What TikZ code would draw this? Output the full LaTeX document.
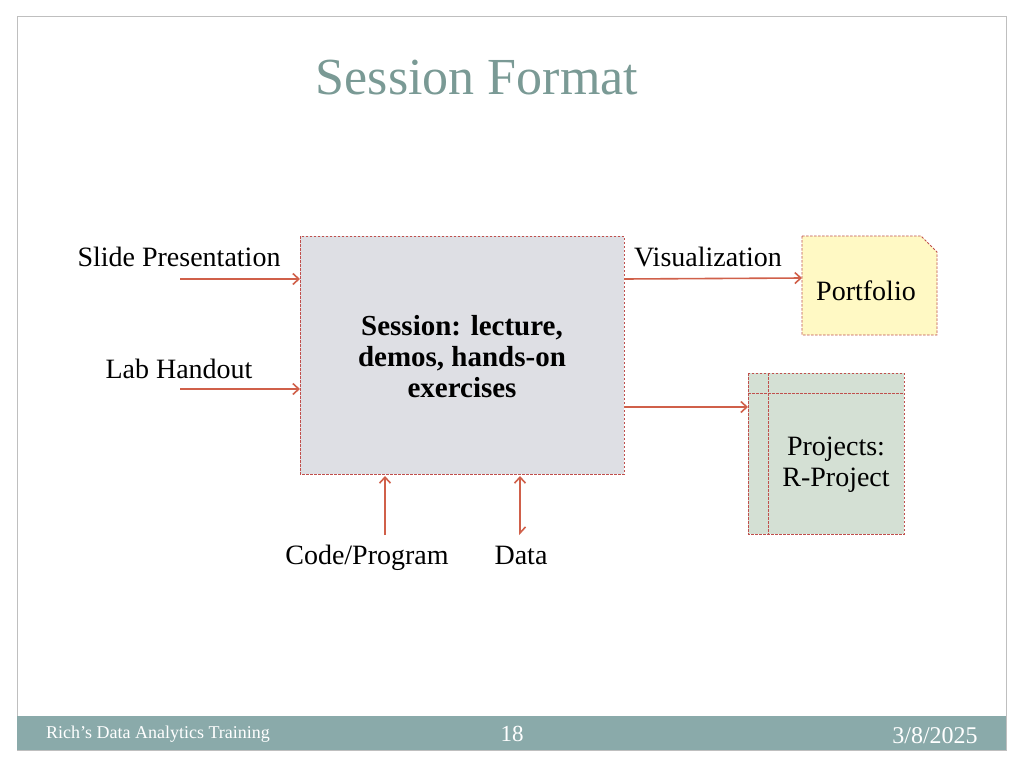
\documentclass[tikz,border=0pt]{standalone}
\usepackage{fontspec}
\setmainfont{Liberation Serif}
\usetikzlibrary{arrows.meta}
\definecolor{arrowred}{HTML}{D0604A}
\definecolor{edgered}{HTML}{C0504D}
\definecolor{titlegray}{HTML}{7A9A95}
\definecolor{bandgray}{HTML}{8AAAAA}
\definecolor{boxgray}{HTML}{DEDFE4}
\definecolor{noteyellow}{HTML}{FFF9C4}
\definecolor{projgreen}{HTML}{D4E0D4}
\tikzset{
  flow/.style={draw=arrowred, line width=1.6pt, -{Straight Barb[length=6pt,width=11pt]}},
  dashbox/.style={draw=edgered, dash pattern=on 2.5pt off 1.5pt, line width=0.8pt},
  lbl/.style={font=\fontsize{28}{31}\selectfont, inner sep=0pt}
}
\begin{document}
\begin{tikzpicture}[x=1pt,y=-1pt]
\useasboundingbox (0,0) rectangle (1024,768);

%FRAME
  \fill[white] (0,0) rectangle (1024,768);
  \draw[gray!50, line width=1pt] (17,17) rectangle (1006,750);
  \fill[bandgray] (17,716) rectangle (1006,750);
  \node (title) at (477,78) [lbl, text=titlegray, font=\fontsize{52}{58}\selectfont] {Session Format};
  \node (foot) at (158,734) [lbl, text=white, font=\fontsize{18}{20}\selectfont] {Rich's Data Analytics Training};
  \node (page) at (512,734) [lbl, text=white, font=\fontsize{23}{26}\selectfont] {18};
  \node (date) at (935,736) [lbl, text=white, font=\fontsize{24}{26}\selectfont] {3/8/2025};

%BOXES
  \filldraw[dashbox, fill=boxgray] (300,236) rectangle (624,474);
  \node (session) at (462,357) [lbl, align=center, font=\bfseries\fontsize{29}{31}\selectfont] {Session: lecture,\\demos, hands-on\\exercises};
  \filldraw[dashbox, fill=noteyellow] (802,236) -- (921,236) -- (937,252) -- (937,335) -- (802,335) -- cycle;
  \node (port) at (866,291) [lbl] {Portfolio};
  \filldraw[dashbox, fill=projgreen] (748,373) rectangle (904,534);
  \draw[dashbox] (768,373) -- (768,534);
  \draw[dashbox] (748,393) -- (904,393);
  \node (proj) at (836,465) [lbl, align=center] {Projects:\\R-Project};

%ARROWS
  \coordinate (s1) at (180,279); \coordinate (s2) at (300,279);
  \coordinate (l1) at (180,389); \coordinate (l2) at (300,389);
  \coordinate (v1) at (624,279); \coordinate (v2) at (802,278);
  \coordinate (p1) at (624,407); \coordinate (p2) at (748,407);
  \coordinate (c1) at (385,535); \coordinate (c2) at (385,476);
  \coordinate (d1) at (520,535); \coordinate (d2) at (520,476);
  \draw[flow] (s1) -- (s2);
  \draw[flow] (l1) -- (l2);
  \draw[flow] (v1) -- (v2);
  \draw[flow] (p1) -- (p2);
  \draw[flow] (c1) -- (c2);
  \draw[flow, {Straight Barb[left,length=6pt,width=11pt]}-{Straight Barb[length=6pt,width=11pt]}] (d1) -- (d2);

%LABELS
  \node (slide) at (179,266) [lbl, anchor=base] {Slide Presentation};
  \node (lab) at (179,378) [lbl, anchor=base] {Lab Handout};
  \node (vis) at (708,266) [lbl, anchor=base] {Visualization};
  \node (code) at (367,564) [lbl, anchor=base] {Code/Program};
  \node (data) at (521,564) [lbl, anchor=base] {Data};
\end{tikzpicture}
\end{document}
